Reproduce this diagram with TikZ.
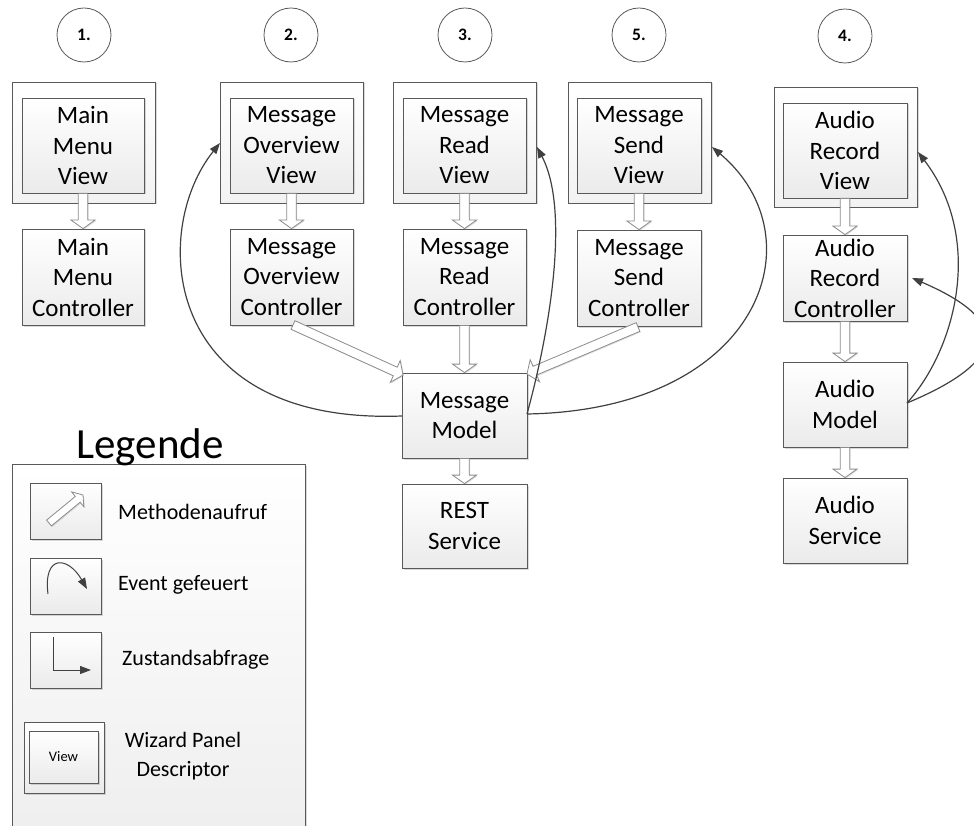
\documentclass[tikz,border=0pt]{standalone}
\usepackage{fontspec}
\setmainfont{Carlito}
\usetikzlibrary{arrows.meta,shadows}
\definecolor{frame}{HTML}{595959}
\definecolor{edge}{HTML}{404040}
\definecolor{hollow}{HTML}{8C8C8C}
\newcommand\boxfont{\fontsize{25}{30.5}\selectfont}
\newcommand\legfont{\fontsize{22}{29}\selectfont}

\tikzset{
  softshadow/.style={drop shadow={shadow xshift=1.5pt, shadow yshift=-1.5pt, opacity=0.3}},
  unitbox/.style={draw=frame, line width=0.8pt, top color=white, bottom color=black!8,
    softshadow, inner sep=0pt, align=center, font=\boxfont},
  panelbox/.style={unitbox, bottom color=black!5},
  stepnum/.style={circle, draw=frame, line width=0.8pt, fill=white, minimum size=54pt,
    inner sep=0pt, font=\fontsize{17.5}{20}\selectfont\bfseries},
  blockarrow/.style={draw=hollow, fill=white, line width=0.8pt, line join=miter,
    drop shadow={shadow xshift=1pt, shadow yshift=-1pt, opacity=0.25}},
  eventline/.style={draw=edge, line width=1.2pt, -{Triangle[length=11pt,width=8pt]}},
  legendtext/.style={font=\legfont, inner sep=0pt},
}

% hollow block arrow from point #2 to point #3, sized by factor #1
\makeatletter
\newcommand\blockarr[3][1]{%
  \coordinate (bastart) at (#2);
  \coordinate (baend) at (#3);
  \pgfpointdiff{\pgfpointanchor{bastart}{center}}{\pgfpointanchor{baend}{center}}%
  \edef\ba@dx{\the\pgf@x}\edef\ba@dy{\the\pgf@y}%
  \pgfmathveclen{\ba@dx}{\ba@dy}\let\ba@len\pgfmathresult
  \pgfmathanglebetweenpoints{\pgfpointanchor{bastart}{center}}{\pgfpointanchor{baend}{center}}%
  \let\ba@ang\pgfmathresult
  \pgfmathsetmacro\ba@s{4.7*#1}\pgfmathsetmacro\ba@h{12*#1}\pgfmathsetmacro\ba@l{8.5*#1}%
  \pgfmathsetmacro\ba@b{\ba@len-\ba@l}%
  \draw[blockarrow, shift={(bastart)}, rotate=\ba@ang]
    (0,-\ba@s) -- (\ba@b,-\ba@s) -- (\ba@b,-\ba@h) -- (\ba@len,0)
    -- (\ba@b,\ba@h) -- (\ba@b,\ba@s) -- (0,\ba@s) -- cycle;
}
\makeatother

\begin{document}
\begin{tikzpicture}[x=1pt, y=-1pt]
\useasboundingbox (0,0) rectangle (974,826);

% step numbers
\node[stepnum] (n1) at (84,35) {1.};
\node[stepnum] (n2) at (291,35) {2.};
\node[stepnum] (n3) at (465,35) {3.};
\node[stepnum] (n5) at (639,35) {5.};
\node[stepnum] (n4) at (845,36) {4.};

% wizard panels with their views
\node[panelbox, minimum width=143pt, minimum height=121pt] (pMM) at (83.5,142.5) {};
\node[unitbox, minimum width=122pt, minimum height=95pt] (vMM) at (83,145.5) {Main\\Menu\\View};
\node[panelbox, minimum width=143pt, minimum height=121pt] (pMO) at (291.5,142.5) {};
\node[unitbox, minimum width=123pt, minimum height=95pt] (vMO) at (291.5,145.5) {Message\\Overview\\View};
\node[panelbox, minimum width=143pt, minimum height=121pt] (pMR) at (464.5,142.5) {};
\node[unitbox, minimum width=123pt, minimum height=95pt] (vMR) at (464.5,145.5) {Message\\Read\\View};
\node[panelbox, minimum width=143pt, minimum height=121pt] (pMS) at (639.5,142.5) {};
\node[unitbox, minimum width=124pt, minimum height=95pt] (vMS) at (639,145.5) {Message\\Send\\View};
\node[panelbox, minimum width=143pt, minimum height=120pt] (pAR) at (845.5,147) {};
\node[unitbox, minimum width=124pt, minimum height=95pt] (vAR) at (845,150.5) {Audio\\Record\\View};

% controllers
\node[unitbox, minimum width=122pt, minimum height=96pt] (cMM) at (83,277) {Main\\Menu\\Controller};
\node[unitbox, minimum width=123pt, minimum height=96pt] (cMO) at (291.5,277) {Message\\Overview\\Controller};
\node[unitbox, minimum width=123pt, minimum height=96pt] (cMR) at (464.5,277) {Message\\Read\\Controller};
\node[unitbox, minimum width=124pt, minimum height=96pt] (cMS) at (639,278) {Message\\Send\\Controller};
\node[unitbox, minimum width=124pt, minimum height=86pt] (cAR) at (845,278) {Audio\\Record\\Controller};

% models and services
\node[unitbox, minimum width=125pt, minimum height=85pt] (mM) at (464.5,415.5) {Message\\Model};
\node[unitbox, minimum width=125pt, minimum height=84pt] (sREST) at (464.5,526) {REST\\Service};
\node[unitbox, minimum width=124pt, minimum height=85pt] (mA) at (845,404.5) {Audio\\Model};
\node[unitbox, minimum width=124pt, minimum height=85pt] (sA) at (845,520.5) {Audio\\Service};

% method calls
\coordinate (oMO) at (293,325);
\coordinate (iMOm) at (403,375);
\coordinate (oMS) at (638,327);
\coordinate (iMSm) at (527,374);
\blockarr{vMM.south}{cMM.north}
\blockarr{vMO.south}{cMO.north}
\blockarr{vMR.south}{cMR.north}
\blockarr{vMS.south}{cMS.north}
\blockarr{vAR.south}{cAR.north}
\blockarr{cAR.south}{mA.north}
\blockarr{mA.south}{sA.north}
\blockarr{oMO}{iMOm}
\blockarr{cMR.south}{mM.north}
\blockarr{oMS}{iMSm}
\blockarr{mM.south}{sREST.north}

% fired events
\coordinate (mMw) at (402,416);
\coordinate (mMe) at (527,414);
\coordinate (pMOw) at (220,143);
\coordinate (pMRe) at (537,147);
\coordinate (pMSe) at (712,147);
\coordinate (mAe) at (907,403);
\coordinate (pARe) at (918,152);
\coordinate (cARe) at (912,278);
\draw[eventline] (mMw) .. controls (160,425) and (150,230) .. (pMOw);
\draw[eventline] (mMe) .. controls (550,330) and (570,210) .. (pMRe);
\draw[eventline] (mMe) .. controls (760,410) and (820,238) .. (pMSe);
\draw[eventline] (mAe) .. controls (955,350) and (985,240) .. (pARe);
\draw[eventline] (mAe) .. controls (1010,360) and (1010,320) .. (cARe);

% legend
\node[unitbox, bottom color=black!7, minimum width=293pt, minimum height=400pt] (leg) at (158.5,664) {};
\node[anchor=base, inner sep=0pt, font=\fontsize{43}{50}\selectfont] (legtitle) at (150,458) {Legende};

\node[unitbox, minimum width=71pt, minimum height=56pt] (kCall) at (65.5,511) {};
\node[unitbox, minimum width=71pt, minimum height=56pt] (kEvent) at (65.5,586) {};
\node[unitbox, minimum width=71pt, minimum height=56pt] (kQuery) at (65.5,660) {};
\node[unitbox, minimum width=80pt, minimum height=71pt] (kPanel) at (64,757.5) {};
\node[unitbox, minimum width=69pt, minimum height=52pt, font=\fontsize{14.5}{17}\selectfont] (kView) at (63.5,757) {View};

\coordinate (kCallA) at (49,523);
\coordinate (kCallB) at (83,495);
\blockarr[0.8]{kCallA}{kCallB}
\coordinate (kEvA) at (48,594);
\coordinate (kEvB) at (87,589);
\draw[eventline, line width=1pt] (kEvA) .. controls (43,554) and (68,556) .. (kEvB);
\coordinate (kQA) at (53,637);
\coordinate (kQB) at (91,670);
\draw[eventline, line width=1pt] (kQA) |- (kQB);

\node[legendtext, anchor=west] (tCall) at (118,512) {Methodenaufruf};
\node[legendtext, anchor=west] (tEvent) at (118,585) {Event gefeuert};
\node[legendtext, anchor=west] (tQuery) at (122,660) {Zustandsabfrage};
\node[legendtext, align=center] (tPanel) at (183,756) {Wizard Panel\\Descriptor};
\end{tikzpicture}
\end{document}
